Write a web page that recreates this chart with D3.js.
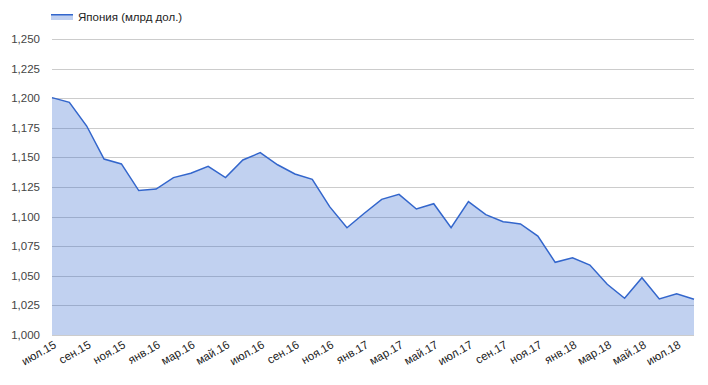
<!DOCTYPE html>
<html>
<head>
<meta charset="utf-8">
<script src="https://cdn.jsdelivr.net/npm/d3@7/dist/d3.min.js"></script>
<style>
  body { margin: 0; background: #fff; }
  text { font-family: Arial, "Liberation Sans", sans-serif; }
</style>
</head>
<body>
<div id="chart"></div>
<script>
// monthly values, июл.15 .. авг.18
const months = [
  "июл.15", "авг.15", "сен.15", "окт.15", "ноя.15", "дек.15",
  "янв.16", "фев.16", "мар.16", "апр.16", "май.16", "июн.16",
  "июл.16", "авг.16", "сен.16", "окт.16", "ноя.16", "дек.16",
  "янв.17", "фев.17", "мар.17", "апр.17", "май.17", "июн.17",
  "июл.17", "авг.17", "сен.17", "окт.17", "ноя.17", "дек.17",
  "янв.18", "фев.18", "мар.18", "апр.18", "май.18", "июн.18",
  "июл.18", "авг.18"
];
const values = [
  1200.5, 1196.5, 1176.5, 1148.6, 1144.5, 1122.0,
  1123.3, 1132.9, 1136.6, 1142.5, 1132.9, 1147.8,
  1154.0, 1143.8, 1136.0, 1131.5, 1108.4, 1090.6,
  1102.8, 1114.6, 1118.8, 1106.4, 1110.9, 1090.6,
  1112.6, 1101.6, 1095.7, 1093.8, 1083.6, 1061.4,
  1065.3, 1059.1, 1042.8, 1031.0, 1048.4, 1030.4,
  1034.9, 1030.2
];
const yTicks = [1000, 1025, 1050, 1075, 1100, 1125, 1150, 1175, 1200, 1225, 1250];
const seriesName = "Япония (млрд дол.)";

const width = 708, height = 385;
const margin = { top: 39, right: 14, bottom: 50, left: 52 };

const svg = d3.select("#chart").append("svg")
  .attr("width", width)
  .attr("height", height);

const x = d3.scalePoint()
  .domain(months)
  .range([margin.left, width - margin.right]);

const y = d3.scaleLinear()
  .domain([1000, 1250])
  .range([height - margin.bottom, margin.top]);

// gridlines
svg.append("g")
  .selectAll("line")
  .data(yTicks)
  .join("line")
  .attr("x1", margin.left)
  .attr("x2", width - margin.right)
  .attr("y1", d => Math.round(y(d)) + 0.5)
  .attr("y2", d => Math.round(y(d)) + 0.5)
  .attr("stroke", "#cccccc")
  .attr("stroke-width", 1);

// y labels
svg.append("g")
  .selectAll("text")
  .data(yTicks)
  .join("text")
  .attr("x", margin.left - 12)
  .attr("y", d => y(d) + 4)
  .attr("text-anchor", "end")
  .style("font-size", "11.5px")
  .style("fill", "#444")
  .text(d => d3.format(",")(d));

const data = months.map((m, i) => ({ m, v: values[i] }));

const area = d3.area()
  .x(d => x(d.m))
  .y0(y(1000))
  .y1(d => y(d.v));

const line = d3.line()
  .x(d => x(d.m))
  .y(d => y(d.v));

svg.append("path")
  .datum(data)
  .attr("d", area)
  .attr("fill", "#3366cc")
  .attr("fill-opacity", 0.3);

svg.append("path")
  .datum(data)
  .attr("d", line)
  .attr("fill", "none")
  .attr("stroke", "#3366cc")
  .attr("stroke-width", 1.5);

// x labels, every second month, rotated
svg.append("g")
  .selectAll("text")
  .data(months.filter((d, i) => i % 2 === 0))
  .join("text")
  .attr("text-anchor", "end")
  .attr("transform", d => `translate(${x(d) + 5},${height - margin.bottom + 12}) rotate(-30)`)
  .style("font-size", "11.5px")
  .style("fill", "#222")
  .text(d => d);

// legend
const lg = svg.append("g").attr("transform", "translate(51,14)");
lg.append("rect")
  .attr("width", 22).attr("height", 6)
  .attr("fill", "#3366cc").attr("fill-opacity", 0.3);
lg.append("line")
  .attr("x1", 0).attr("x2", 22).attr("y1", 0.75).attr("y2", 0.75)
  .attr("stroke", "#3366cc").attr("stroke-width", 1.5);
lg.append("text")
  .attr("x", 27).attr("y", 6.5)
  .style("font-size", "11.5px")
  .style("fill", "#222")
  .text(seriesName);
</script>
</body>
</html>
